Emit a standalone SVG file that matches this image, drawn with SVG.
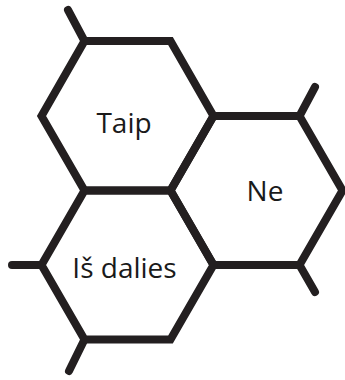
<svg xmlns="http://www.w3.org/2000/svg" width="345" height="380" viewBox="0 0 345 380">
<style>
.hex{fill:none;stroke:#231f20;stroke-width:8;stroke-linejoin:miter}
.stub{stroke:#231f20;stroke-width:8;stroke-linecap:round}
.lbl{font-family:"Open Sans","Noto Sans",sans-serif;font-size:28px;fill:#1a1a1a;text-anchor:middle}
</style>
<rect width="345" height="380" fill="#ffffff"/>
<g id="connectors">
<line class="stub" x1="84.5" y1="41" x2="68" y2="10"/>
<line class="stub" x1="299.5" y1="116" x2="315" y2="87"/>
<line class="stub" x1="299.5" y1="265" x2="315" y2="292"/>
<line class="stub" x1="41.5" y1="265" x2="12" y2="265"/>
<line class="stub" x1="84.5" y1="339.5" x2="69" y2="371"/>
</g>
<g id="taip">
<polygon class="hex" points="84.5,41 170.5,41 213.5,116 170.5,190.5 84.5,190.5 41.5,116"/>
<text class="lbl" x="124" y="132.5">Taip</text>
</g>
<g id="ne">
<polygon class="hex" points="213.5,116 299.5,116 342.5,190.5 299.5,265 213.5,265 170.5,190.5"/>
<text class="lbl" x="265" y="200.5">Ne</text>
</g>
<g id="is-dalies">
<polygon class="hex" points="84.5,190.5 170.5,190.5 213.5,265 170.5,339.5 84.5,339.5 41.5,265"/>
<text class="lbl" x="124.5" y="277.5">Iš dalies</text>
</g>
</svg>
